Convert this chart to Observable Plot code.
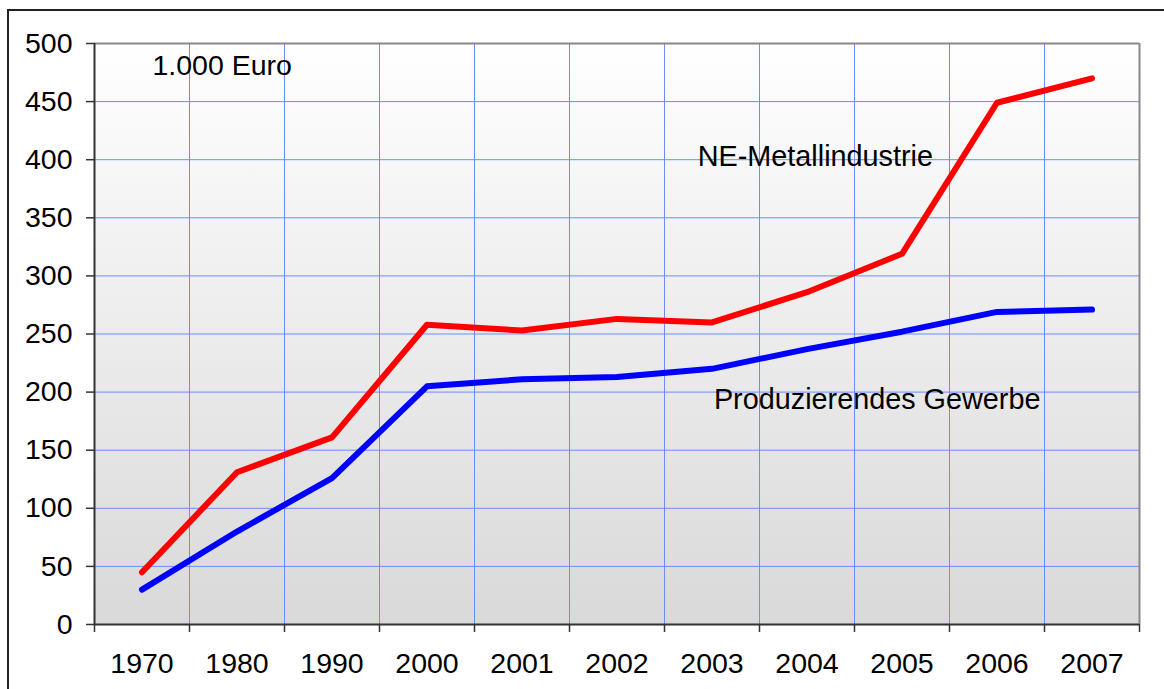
<!DOCTYPE html>
<html>
<head>
<meta charset="utf-8">
<script src="https://cdn.jsdelivr.net/npm/d3@7"></script>
<script src="https://cdn.jsdelivr.net/npm/@observablehq/plot@0.6"></script>
<style>
  html, body { margin: 0; padding: 0; background: #fff; }
  #wrap { position: relative; width: 1164px; height: 689px; overflow: hidden; }
  #frame { position: absolute; left: 7px; top: 9px; width: 1200px; height: 800px;
           border-left: 2px solid #222; border-top: 2px solid #222; pointer-events: none; }
</style>
</head>
<body>
<div id="wrap"><div id="frame"></div></div>
<script>
const years = ["1970","1980","1990","2000","2001","2002","2003","2004","2005","2006","2007"];
const neMetall = [45, 131, 161, 258, 253, 263, 260, 286, 319, 449, 470];
const produzierend = [30, 80, 126, 205, 211, 213, 220, 237, 252, 269, 271];
const yTicks = [0, 50, 100, 150, 200, 250, 300, 350, 400, 450, 500];
const seriesNames = ["NE-Metallindustrie", "Produzierendes Gewerbe"];

const data = [];
years.forEach((yr, i) => {
  data.push({i, year: yr, value: neMetall[i], series: seriesNames[0]});
  data.push({i, year: yr, value: produzierend[i], series: seriesNames[1]});
});
const idx = years.map((_, i) => i);
const bounds = d3.range(-0.5, years.length, 1);
const innerBounds = bounds.slice(1, -1);

const font = "'Liberation Sans', Arial, sans-serif";
const grid = "#6b8cff";

function background(index, scales, values, dims) {
  const ns = "http://www.w3.org/2000/svg";
  const g = document.createElementNS(ns, "g");
  const defs = document.createElementNS(ns, "defs");
  const lg = document.createElementNS(ns, "linearGradient");
  lg.setAttribute("id", "bgGrad");
  lg.setAttribute("x1", "0"); lg.setAttribute("y1", "0");
  lg.setAttribute("x2", "0"); lg.setAttribute("y2", "1");
  [["0", "#ffffff"], ["1", "#d9d9d9"]].forEach(([o, c]) => {
    const s = document.createElementNS(ns, "stop");
    s.setAttribute("offset", o); s.setAttribute("stop-color", c);
    lg.appendChild(s);
  });
  defs.appendChild(lg);
  g.appendChild(defs);
  const r = document.createElementNS(ns, "rect");
  r.setAttribute("x", dims.marginLeft);
  r.setAttribute("y", dims.marginTop);
  r.setAttribute("width", dims.width - dims.marginLeft - dims.marginRight);
  r.setAttribute("height", dims.height - dims.marginTop - dims.marginBottom);
  r.setAttribute("fill", "url(#bgGrad)");
  g.appendChild(r);
  return g;
}

const chart = Plot.plot({
  width: 1164,
  height: 689,
  marginLeft: 94,
  marginRight: 25,
  marginTop: 43,
  marginBottom: 65,
  style: {fontFamily: font, fontSize: "28px", color: "#000", background: "transparent"},
  x: {type: "linear", domain: [-0.5, years.length - 0.5]},
  y: {domain: [0, 500]},
  marks: [
    background,
    Plot.ruleY(yTicks.filter(d => d > 0 && d < 500), {stroke: grid, strokeWidth: 1}),
    Plot.ruleX(innerBounds, {stroke: grid, strokeWidth: 1}),
    Plot.ruleY([500], {stroke: "#888", strokeWidth: 2}),
    Plot.ruleX([years.length - 0.5], {stroke: "#888", strokeWidth: 2}),
    Plot.axisY({ticks: yTicks, tickSize: 8, tickPadding: 14, stroke: "#333", strokeWidth: 1.5, fontSize: 28.5, label: null}),
    Plot.axisX({ticks: bounds, tickSize: 8, tickFormat: () => "", stroke: "#333", strokeWidth: 1.5, label: null}),
    Plot.axisX({ticks: idx, tickSize: 0, tickPadding: 28, tickFormat: i => years[i], fontSize: 28.5, label: null}),
    Plot.ruleX([-0.5], {stroke: "#333", strokeWidth: 2}),
    Plot.ruleY([0], {stroke: "#333", strokeWidth: 2}),
    Plot.line(data, {x: "i", y: "value", z: "series",
      stroke: d => d.series === seriesNames[0] ? "#ff0000" : "#0000ff",
      strokeWidth: 6, strokeLinecap: "round", strokeLinejoin: "round"}),
    Plot.text(["1.000 Euro"], {x: 0.11, y: 481, text: d => d, textAnchor: "start", fontSize: 28.5, fill: "#000"}),
    Plot.text([seriesNames[0]], {x: 5.85, y: 402.5, text: d => d, textAnchor: "start", fontSize: 28.8, fill: "#000"}),
    Plot.text([seriesNames[1]], {x: 6.02, y: 193.5, text: d => d, textAnchor: "start", fontSize: 28.8, fill: "#000"})
  ]
});
document.getElementById("wrap").insertBefore(chart, document.getElementById("frame"));
</script>
</body>
</html>
